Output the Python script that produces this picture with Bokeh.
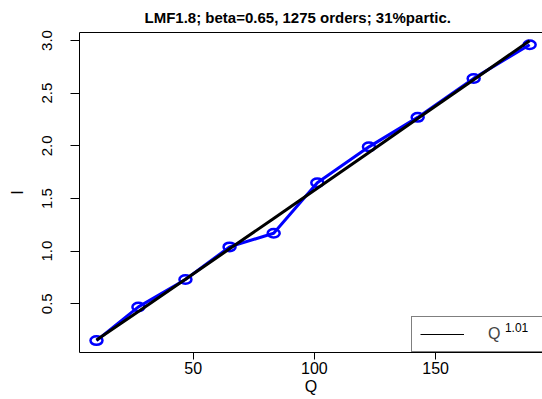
from bokeh.plotting import figure
from bokeh.models import Range1d, LinearAxis, FixedTicker, Legend, LegendItem, Label, CustomJSTickFormatter
from bokeh.embed import file_html
from bokeh.resources import INLINE

# ---- data ----
Q = [10.1, 27.4, 46.8, 65.0, 83.2, 101.2, 122.5, 142.6, 165.7, 188.8]
I = [0.15, 0.47, 0.73, 1.04, 1.17, 1.65, 1.99, 2.27, 2.64, 2.96]
fit_coef = 0.01507
fit_exponent = 1.01
x_ticks = [50, 100, 150]
y_ticks = [0.5, 1.0, 1.5, 2.0, 2.5, 3.0]
title_text = "LMF1.8; beta=0.65, 1275 orders; 31%partic."
x_label = "Q"
y_label = "I"
legend_base = "Q"
legend_sup = "1.01"

fit_I = [fit_coef * q ** fit_exponent for q in Q]

FONT = "Liberation Sans"
X0, X1 = 3.09, 194.1
Y0, Y1 = 0.037, 3.076

p = figure(width=542, height=399, x_range=Range1d(X0, X1), y_range=Range1d(Y0, Y1),
           toolbar_location=None, output_backend="svg",
           min_border_left=79, min_border_right=0, min_border_top=32, min_border_bottom=47,
           x_axis_label=x_label, y_axis_label=y_label)
p.outline_line_color = None
p.grid.visible = False
p.background_fill_color = "white"

p.title.text = title_text
p.title.align = "left"
p.title.offset = 65
p.title.text_font = FONT
p.title.text_font_size = "15px"
p.title.text_font_style = "bold"
p.title.text_color = "black"
p.title.standoff = 13

for ax in (p.xaxis[0], p.yaxis[0]):
    ax.axis_line_color = "black"
    ax.axis_line_width = 1
    ax.major_tick_line_color = "black"
    ax.major_tick_in = 0
    ax.minor_tick_line_color = None
    ax.major_label_text_font = FONT
    ax.axis_label_text_font = FONT
    ax.axis_label_text_font_style = "normal"
    ax.axis_label_text_font_size = "16px"
    ax.axis_label_text_color = "black"
    ax.major_label_text_color = "black"

p.xaxis[0].ticker = FixedTicker(ticks=x_ticks)
p.xaxis[0].major_tick_out = 7
p.xaxis[0].major_label_text_font_size = "16px"
p.xaxis[0].major_label_standoff = 2
p.xaxis[0].axis_label_standoff = 1

p.yaxis[0].ticker = FixedTicker(ticks=y_ticks)
p.yaxis[0].formatter = CustomJSTickFormatter(code="return tick.toFixed(1);")
p.yaxis[0].major_tick_out = 9
p.yaxis[0].major_label_text_font_size = "15px"
p.yaxis[0].major_label_orientation = "vertical"
p.yaxis[0].major_label_standoff = 18
p.yaxis[0].axis_label_standoff = 14

top_axis = LinearAxis(ticker=FixedTicker(ticks=[]), axis_line_color="black",
                      major_tick_line_color=None, minor_tick_line_color=None,
                      major_tick_out=0, major_tick_in=0, major_label_standoff=0,
                      major_label_text_font_size="0px")
p.add_layout(top_axis, "above")

p.line(Q, I, line_color="blue", line_width=3)
p.ellipse(Q, I, width=12, height=8.5, width_units="screen", height_units="screen",
          fill_color="white", fill_alpha=0, line_color="blue", line_width=2.5)
fit_r = p.line(Q, fit_I, line_color="black", line_width=3)

legend_line = p.line([Q[0]], [fit_I[0]], line_color="black", line_width=1, visible=False)
legend = Legend(items=[LegendItem(label=legend_base, renderers=[legend_line])],
                location=(332, 0), margin=0, padding=8, spacing=0,
                glyph_width=44, glyph_height=18, label_height=18, label_standoff=24, label_width=60,
                label_text_font=FONT, label_text_font_size="16px",
                border_line_color="black", border_line_width=1,
                background_fill_alpha=0)
p.add_layout(legend, "center")

sup = Label(x=178.6, y=0.227, text=legend_sup, text_font=FONT, text_font_size="12px",
            text_color="black")
p.add_layout(sup)

open("out.html", "w").write(file_html(p, INLINE))
